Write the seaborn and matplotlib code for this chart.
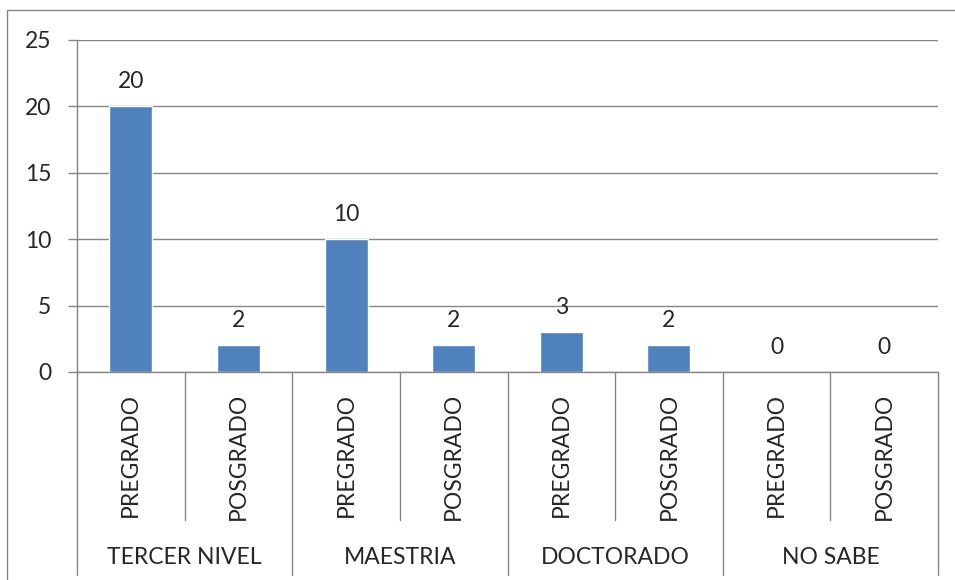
import matplotlib
matplotlib.use("Agg")
import matplotlib.pyplot as plt
import matplotlib.transforms as mtransforms
import seaborn as sns
import pandas as pd

# data
groups = ['TERCER NIVEL', 'MAESTRIA', 'DOCTORADO', 'NO SABE']
subs = ['PREGRADO', 'POSGRADO']
values = [20, 2, 10, 2, 3, 2, 0, 0]

keys = []
sub_labels = []
for g in groups:
    for s in subs:
        keys.append(g + '|' + s)
        sub_labels.append(s)
df = pd.DataFrame({'key': keys, 'value': values})

sns.set_style("white")
plt.rcParams['font.family'] = ['Lato', 'DejaVu Sans']
fs = 16.5
grid_col = '#868686'
bar_col = '#4F81BD'

fig = plt.figure(figsize=(9.55, 5.8), dpi=100)
ax = fig.add_axes([77/955, 1 - 372/580, (938 - 77)/955, (372 - 40)/580])

sns.barplot(data=df, x='key', y='value', color=bar_col, width=0.4,
            saturation=1, ax=ax, order=keys)

ax.set_xlim(-0.5, 7.5)
ax.set_ylim(0, 25)
ax.set_yticks(range(0, 26, 5))
ax.yaxis.grid(True, color=grid_col, lw=1)
ax.set_axisbelow(True)
ax.set_xlabel('')
ax.set_ylabel('')
for side in ['top', 'right']:
    ax.spines[side].set_visible(False)
for side in ['left', 'bottom']:
    ax.spines[side].set_color(grid_col)
    ax.spines[side].set_linewidth(1)
ax.tick_params(axis='y', length=6.5, width=1, color=grid_col, pad=12,
               labelsize=fs, left=True)

ax.set_xticks(range(len(keys)))
ax.set_xticklabels(sub_labels, rotation=90, fontsize=fs, va='top')
ax.tick_params(axis='x', length=0, pad=15)

# value labels
for i, v in enumerate(values):
    ax.annotate(str(v), (i, v), xytext=(0, 13), textcoords='offset points',
                ha='center', va='baseline', fontsize=fs)

# multi-level category axis separators
trans = mtransforms.blended_transform_factory(ax.transData, ax.transAxes)
h = 372 - 40
for k in range(len(keys) + 1):
    x = k - 0.5
    if k % 2 == 0:
        y_end = -(575 - 372) / h
    else:
        y_end = -(520 - 372) / h
    ax.plot([x, x], [0, y_end], color=grid_col, lw=1, transform=trans,
            clip_on=False)

for gi, g in enumerate(groups):
    ax.text(gi * 2 + 0.5, -(557 - 372) / h, g, transform=trans, ha='center',
            va='center', fontsize=fs)

# outer chart border
fig.add_artist(plt.Line2D([7/955, 7/955], [0, 1 - 10/580], color=grid_col,
                          lw=1, transform=fig.transFigure))
fig.add_artist(plt.Line2D([7/955, 1], [1 - 10/580, 1 - 10/580], color=grid_col,
                          lw=1, transform=fig.transFigure))

fig.savefig('out.png', dpi=100)
